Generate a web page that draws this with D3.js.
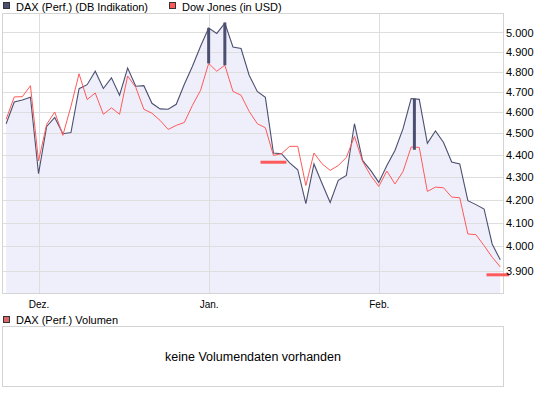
<!DOCTYPE html>
<html>
<head>
<meta charset="utf-8">
<script src="https://cdn.jsdelivr.net/npm/d3@7"></script>
<style>
    body { margin: 0; background: #fff; }
    text { font-family: "Liberation Sans", Arial, sans-serif; fill: #000; }
</style>
</head>
<body>
<svg id="chart" width="545" height="395"></svg>
<script>
// trading days shown on the chart (x axis is by index, not by calendar)
var dates = [
    "2008-11-25","2008-11-26","2008-11-27","2008-11-28",
    "2008-12-01","2008-12-02","2008-12-03","2008-12-04","2008-12-05",
    "2008-12-08","2008-12-09","2008-12-10","2008-12-11","2008-12-12",
    "2008-12-15","2008-12-16","2008-12-17","2008-12-18","2008-12-19",
    "2008-12-22","2008-12-23","2008-12-24","2008-12-29","2008-12-30","2008-12-31",
    "2009-01-02","2009-01-05","2009-01-06","2009-01-07","2009-01-08","2009-01-09",
    "2009-01-12","2009-01-13","2009-01-14","2009-01-15","2009-01-16",
    "2009-01-19","2009-01-20","2009-01-21","2009-01-22","2009-01-23",
    "2009-01-26","2009-01-27","2009-01-28","2009-01-29","2009-01-30",
    "2009-02-02","2009-02-03","2009-02-04","2009-02-05","2009-02-06",
    "2009-02-09","2009-02-10","2009-02-11","2009-02-12","2009-02-13",
    "2009-02-16","2009-02-17","2009-02-18","2009-02-19","2009-02-20",
    "2009-02-23"
]

var dax = [
    4546, 4650, 4660, 4673, 4315, 4533, 4576, 4499, 4504, 4715,
    4735, 4802, 4716, 4769, 4683, 4818, 4727, 4730, 4644, 4617,
    4615, 4639, 4737, 4827, 4929, 5023, 4995, 5049, 4925, 4917,
    4782, 4702, 4673, 4409, 4406, 4364, 4333, 4182, 4359, 4271,
    4187, 4285, 4307, 4546, 4375, 4330, 4276, 4352, 4421, 4523,
    4667, 4663, 4454, 4512, 4458, 4368, 4359, 4195, 4178, 4159,
    4010, 3944
]

var dow = [
    4567, 4675, 4676, 4730, 4373, 4543, 4602, 4491, 4629, 4789,
    4662, 4694, 4591, 4622, 4591, 4778, 4722, 4615, 4596, 4562,
    4519, 4538, 4552, 4634, 4707, 4841, 4802, 4832, 4702, 4683,
    4605, 4546, 4527, 4398, 4406, 4440, 4440, 4262, 4409, 4360,
    4330, 4352, 4389, 4486, 4371, 4307, 4258, 4327, 4269, 4325,
    4437, 4435, 4236, 4255, 4252, 4211, 4208, 4052, 4049, 4003,
    3955, 3915
]

var yTicks = [3900, 4000, 4100, 4200, 4300, 4400, 4500, 4600, 4700, 4800, 4900, 5000]
var monthDates = ["2008-12-01", "2009-01-02", "2009-02-02"]
var monthLabels = ["Dez.", "Jan.", "Feb."]

// dark marker bars (index position, high, low)
var barIdx = [25, 27, 50.4]
var barHigh = [5024, 5052, 4667]
var barLow = [4841, 4832, 4424]

// red horizontal markers (index from, index to, level)
var markFrom = [31.4, 59.3]
var markTo = [34.6, 62.1]
var markLevel = [4367, 3883]

var legendNames = ["DAX (Perf.) (DB Indikation)", "Dow Jones (in USD)"]
var colors = { dax: "#4b5070", dow: "#ff5a5a", area: "#efeffb", grid: "#dedede", frame: "#d4d4d4" }

var dims = { left: 2.5, right: 503.5, top: 13.5, bottom: 293.5 }

var svg = d3.select("#chart")

var xScale = d3.scaleLinear()
    .domain([-0.45, dates.length - 1 + 0.4])
    .range([dims.left, dims.right])

var yScale = d3.scaleLog()
    .domain([3808, 5100])
    .range([dims.bottom, dims.top])

var de = d3.formatLocale({ decimal: ",", thousands: ".", grouping: [3], currency: ["", " €"] })
var fmt = de.format(",")

// plot background
svg.append("rect")
    .attr("x", dims.left).attr("y", dims.top)
    .attr("width", dims.right - dims.left).attr("height", dims.bottom - dims.top)
    .attr("fill", "#fff")

// area under DAX
var area = d3.area()
    .x((d, i) => xScale(i))
    .y0(dims.bottom)
    .y1(d => yScale(d))
svg.append("path")
    .datum(dax)
    .attr("d", area)
    .attr("fill", colors.area)

// horizontal grid
svg.append("g")
    .selectAll("line")
    .data(yTicks)
    .join("line")
    .attr("x1", dims.left).attr("x2", dims.right)
    .attr("y1", d => Math.round(yScale(d)) + 0.5)
    .attr("y2", d => Math.round(yScale(d)) + 0.5)
    .attr("stroke", colors.grid)
    .attr("shape-rendering", "crispEdges")

// vertical month grid
var monthIdx = monthDates.map(m => dates.indexOf(m))
svg.append("g")
    .selectAll("line")
    .data(monthIdx)
    .join("line")
    .attr("x1", d => Math.round(xScale(d)) + 0.5)
    .attr("x2", d => Math.round(xScale(d)) + 0.5)
    .attr("y1", dims.top).attr("y2", dims.bottom)
    .attr("stroke", colors.grid)
    .attr("shape-rendering", "crispEdges")

// frame
svg.append("rect")
    .attr("x", dims.left).attr("y", dims.top)
    .attr("width", dims.right - dims.left).attr("height", dims.bottom - dims.top)
    .attr("fill", "none")
    .attr("stroke", colors.frame)
    .attr("shape-rendering", "crispEdges")

var line = d3.line()
    .x((d, i) => xScale(i))
    .y(d => yScale(d))

svg.append("path")
    .datum(dax)
    .attr("d", line)
    .attr("fill", "none")
    .attr("stroke", colors.dax)
    .attr("stroke-width", 1.1)

svg.append("path")
    .datum(dow)
    .attr("d", line)
    .attr("fill", "none")
    .attr("stroke", colors.dow)
    .attr("stroke-width", 1)

// dark marker bars
svg.append("g")
    .selectAll("line")
    .data(barIdx)
    .join("line")
    .attr("x1", d => xScale(d)).attr("x2", d => xScale(d))
    .attr("y1", (d, i) => yScale(barHigh[i]))
    .attr("y2", (d, i) => yScale(barLow[i]))
    .attr("stroke", colors.dax)
    .attr("stroke-width", 3)

// red level markers
svg.append("g")
    .selectAll("line")
    .data(markLevel)
    .join("line")
    .attr("x1", (d, i) => xScale(markFrom[i]))
    .attr("x2", (d, i) => xScale(markTo[i]))
    .attr("y1", d => yScale(d)).attr("y2", d => yScale(d))
    .attr("stroke", colors.dow)
    .attr("stroke-width", 3)

// y axis on the right
var yAxisGen = d3.axisRight(yScale).tickValues(yTicks).tickFormat(fmt).tickSize(0).tickPadding(2.5)
var yAxis = svg.append("g")
    .attr("transform", `translate(${dims.right},0)`)
    .call(yAxisGen)
yAxis.select(".domain").remove()
yAxis.selectAll("text")
    .style("font-size", "11px")
    .style("font-family", "Liberation Sans, Arial, sans-serif")
    .attr("fill", "#000")

// x axis month labels
var xAxisGen = d3.axisBottom(xScale)
    .tickValues(monthIdx)
    .tickFormat((d, i) => monthLabels[i])
    .tickSize(0).tickPadding(7.5)
var xAxis = svg.append("g")
    .attr("transform", `translate(0,${dims.bottom})`)
    .call(xAxisGen)
xAxis.select(".domain").remove()
xAxis.selectAll("text")
    .style("font-size", "10px")
    .style("font-family", "Liberation Sans, Arial, sans-serif")
    .attr("fill", "#000")

// legend
var legend = svg.append("g")
var legendX = [3.5, 169.5]
var legendFill = [colors.dax, colors.dow]
legendNames.forEach(function(name, i) {
    legend.append("rect")
        .attr("x", legendX[i]).attr("y", 2.5)
        .attr("width", 6).attr("height", 6)
        .attr("fill", legendFill[i])
        .attr("stroke", "#333")
        .attr("shape-rendering", "crispEdges")
    legend.append("text")
        .attr("x", legendX[i] + 12.5).attr("y", 10.5)
        .style("font-size", "11px")
        .text(name)
})

// volume panel
svg.append("rect")
    .attr("x", 3.5).attr("y", 316.5)
    .attr("width", 6).attr("height", 6)
    .attr("fill", "#d9676b")
    .attr("stroke", "#333")
    .attr("shape-rendering", "crispEdges")
svg.append("text")
    .attr("x", 16).attr("y", 323.5)
    .style("font-size", "11px")
    .text("DAX (Perf.) Volumen")

svg.append("rect")
    .attr("x", dims.left).attr("y", 326.5)
    .attr("width", dims.right - dims.left).attr("height", 59.5)
    .attr("fill", "#fff")
    .attr("stroke", colors.frame)
    .attr("shape-rendering", "crispEdges")
svg.append("text")
    .attr("x", (dims.left + dims.right) / 2).attr("y", 360.5)
    .attr("text-anchor", "middle")
    .style("font-size", "12.5px")
    .text("keine Volumendaten vorhanden")
</script>
</body>
</html>
